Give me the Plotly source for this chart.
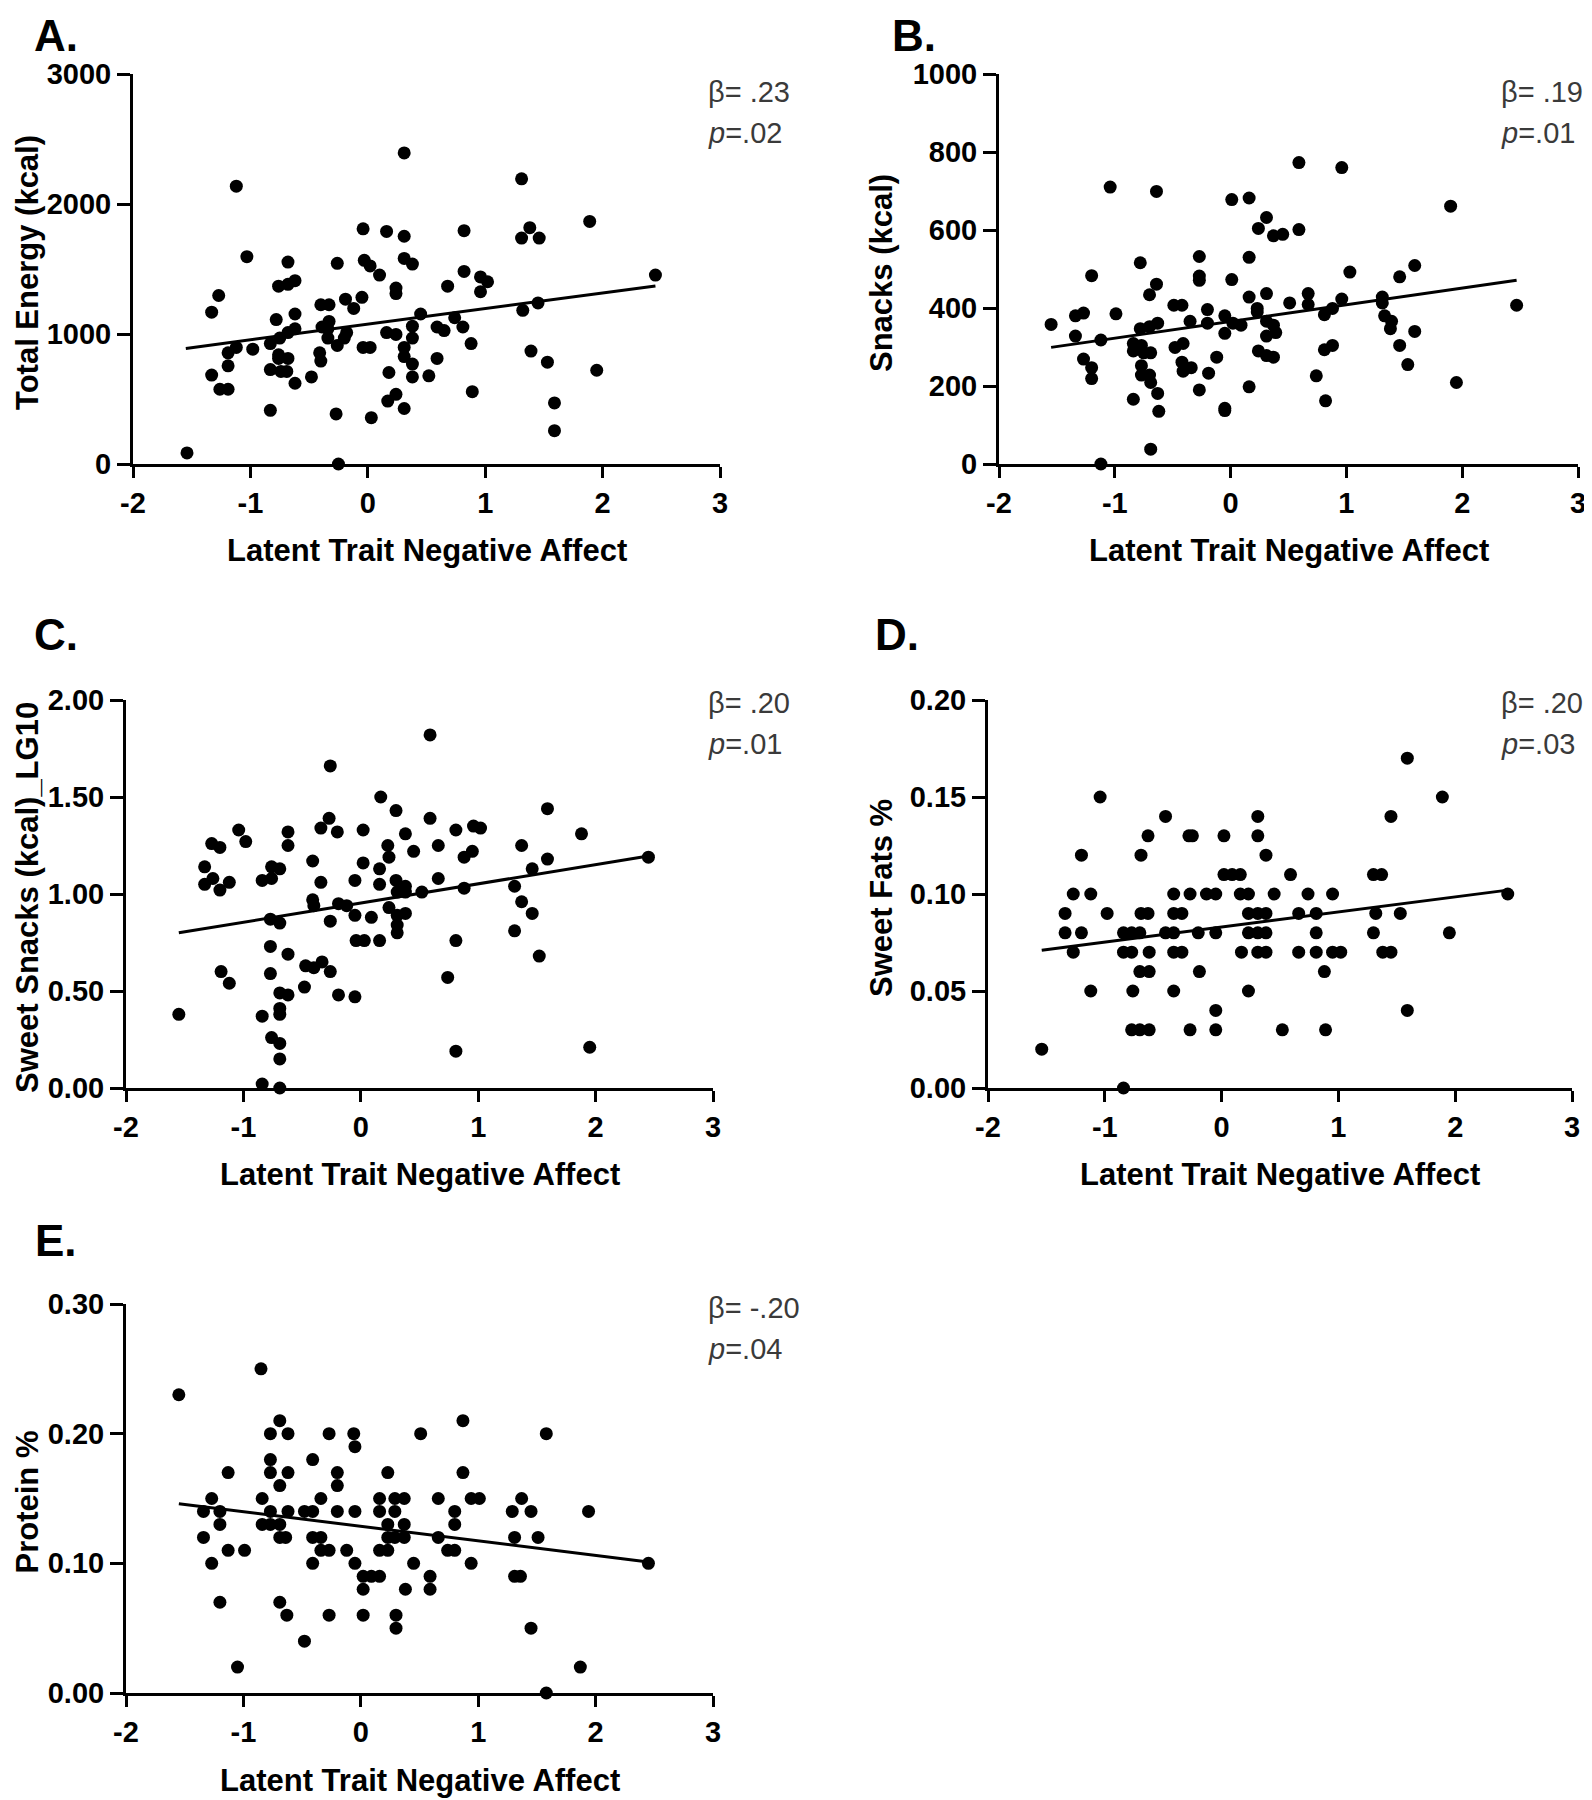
import plotly.graph_objects as go

# ---------------- data ----------------
a_x = [-1.54,-1.33,-1.33,-1.27,-1.26,-1.19,-1.19,-1.19,-1.12,-1.12,-1.03,-0.98,-0.83,-0.83,-0.83,-0.78,-0.76,-0.76,-0.76,-0.74,
       -0.75,-0.69,-0.68,-0.68,-0.68,-0.68,-0.62,-0.62,-0.62,-0.62,-0.48,-0.41,-0.40,-0.40,-0.39,-0.34,-0.33,-0.33,-0.34,-0.27,
       -0.26,-0.25,-0.26,-0.20,-0.19,-0.18,-0.12,-0.05,-0.04,-0.03,-0.04,0.02,0.02,0.03,0.10,0.16,0.16,0.17,0.18,0.24,
       0.24,0.24,0.24,0.31,0.31,0.31,0.31,0.31,0.31,0.38,0.38,0.38,0.38,0.38,0.45,0.52,0.59,0.59,0.65,0.68,
       0.74,0.81,0.82,0.82,0.88,0.89,0.96,0.96,1.02,1.31,1.31,1.32,1.38,1.39,1.46,1.45,1.53,1.59,1.59,1.89,
       1.95,2.45]
a_y = [85,684,1168,1296,575,575,755,855,2137,897,1595,883,413,726,926,1111,1368,840,812,712,
       969,712,812,1553,1382,1011,1410,621,1154,1040,670,855,792,1225,1054,1040,1225,1097,969,385,
       1544,0,912,969,1268,1011,1197,1282,1809,1567,897,1524,897,356,1453,1789,1011,484,704,997,
       536,1311,1353,2393,1752,1581,897,826,427,1538,1060,969,769,670,1154,678,1054,812,1026,1368,
       1125,1054,1795,1481,926,556,1439,1325,1402,2194,1738,1182,1818,869,1738,1239,783,470,256,1866,
       721,1453]
a_fit_x = [-1.55, 2.45]
a_fit_y = [889, 1370]

b_x = [-1.55,-1.34,-1.27,-1.34,-1.27,-1.20,-1.20,-1.20,-1.12,-1.12,-1.04,-0.99,-0.84,-0.84,-0.84,-0.78,-0.78,-0.77,-0.77,-0.77,
       -0.75,-0.70,-0.70,-0.70,-0.69,-0.69,-0.69,-0.64,-0.64,-0.63,-0.63,-0.62,-0.49,-0.48,-0.42,-0.41,-0.42,-0.41,-0.35,-0.34,
       -0.27,-0.27,-0.27,-0.27,-0.20,-0.20,-0.19,-0.12,-0.05,-0.05,-0.05,-0.05,0.01,0.01,0.02,0.09,0.16,0.16,0.16,0.16,
       0.23,0.23,0.24,0.24,0.31,0.31,0.31,0.31,0.31,0.37,0.37,0.39,0.37,0.45,0.51,0.59,0.59,0.67,0.67,0.74,
       0.81,0.81,0.82,0.88,0.88,0.96,0.96,1.03,1.31,1.31,1.33,1.38,1.39,1.46,1.46,1.53,1.59,1.59,1.90,1.95,
       2.47]
b_y = [358,380,387,328,269,247,219,483,318,0,710,385,166,309,290,516,347,252,228,304,
       285,434,352,228,209,38,285,461,699,361,181,135,407,299,407,309,261,238,366,247,
       532,482,471,190,396,361,233,274,380,335,143,137,678,473,361,356,682,530,428,198,
       399,390,604,290,632,437,366,328,278,585,356,337,274,589,413,773,601,437,409,226,
       383,293,162,399,304,760,423,492,428,413,380,347,366,480,304,255,509,340,661,209,
       407]
b_fit_x = [-1.55, 2.47]
b_fit_y = [299, 471]

c_x = [-1.55,-1.33,-1.33,-1.27,-1.26,-1.20,-1.20,-1.19,-1.12,-1.12,-1.04,-0.98,-0.84,-0.84,-0.84,-0.77,-0.77,-0.77,-0.76,-0.76,
       -0.76,-0.69,-0.69,-0.69,-0.69,-0.69,-0.69,-0.69,-0.69,-0.62,-0.62,-0.62,-0.62,-0.48,-0.47,-0.41,-0.41,-0.40,-0.40,-0.34,
       -0.34,-0.33,-0.27,-0.26,-0.26,-0.26,-0.20,-0.19,-0.19,-0.12,-0.05,-0.05,-0.05,-0.04,0.02,0.02,0.03,0.09,0.16,0.16,
       0.17,0.16,0.23,0.24,0.24,0.30,0.30,0.31,0.31,0.31,0.31,0.38,0.38,0.38,0.38,0.45,0.52,0.59,0.59,0.66,
       0.66,0.74,0.81,0.81,0.81,0.88,0.88,0.95,0.96,1.02,1.31,1.31,1.37,1.37,1.46,1.46,1.52,1.59,1.59,1.88,
       1.95,2.45]
c_y = [0.38,1.14,1.05,1.26,1.08,1.24,1.02,0.60,1.06,0.54,1.33,1.27,0.02,0.37,1.07,0.87,0.73,0.59,0.26,1.14,
       1.08,0.00,0.15,0.23,0.38,0.41,0.49,0.85,1.13,0.48,0.69,1.32,1.25,0.52,0.63,1.17,0.97,0.94,0.62,1.34,
       1.06,0.65,1.39,1.66,0.86,0.60,1.32,0.95,0.48,0.94,1.07,0.89,0.47,0.76,1.33,1.16,0.76,0.88,1.13,1.05,
       1.50,0.76,1.25,1.19,0.93,1.43,1.07,1.01,0.89,0.84,0.80,1.31,1.04,1.01,0.90,1.22,1.01,1.82,1.39,1.25,
       1.08,0.57,1.33,0.76,0.19,1.19,1.03,1.22,1.35,1.34,1.04,0.81,1.25,0.96,1.13,0.90,0.68,1.44,1.18,1.31,
       0.21,1.19]
c_fit_x = [-1.55, 2.45]
c_fit_y = [0.80, 1.196]

d_x = [-1.54,-1.34,-1.34,-1.27,-1.27,-1.20,-1.20,-1.12,-1.12,-1.04,-0.98,-0.84,-0.84,-0.84,-0.77,-0.77,-0.77,-0.76,-0.70,-0.70,
       -0.70,-0.69,-0.69,-0.63,-0.63,-0.62,-0.62,-0.62,-0.48,-0.48,-0.41,-0.41,-0.41,-0.41,-0.41,-0.34,-0.34,-0.28,-0.25,-0.27,
       -0.27,-0.20,-0.19,-0.13,-0.05,-0.05,-0.05,-0.05,0.02,0.02,0.09,0.16,0.16,0.17,0.23,0.23,0.23,0.23,0.31,0.31,
       0.31,0.31,0.31,0.38,0.38,0.38,0.38,0.45,0.52,0.59,0.66,0.66,0.74,0.81,0.81,0.81,0.88,0.89,0.95,0.95,
       1.02,1.30,1.32,1.30,1.37,1.38,1.45,1.45,1.53,1.59,1.59,1.89,1.95,2.45]
d_y = [0.02,0.09,0.08,0.10,0.07,0.12,0.08,0.10,0.05,0.15,0.09,0.00,0.08,0.07,0.08,0.07,0.03,0.05,0.08,0.06,
       0.03,0.12,0.09,0.13,0.09,0.07,0.06,0.03,0.14,0.08,0.10,0.09,0.08,0.07,0.05,0.09,0.07,0.13,0.13,0.10,
       0.03,0.08,0.06,0.10,0.10,0.08,0.04,0.03,0.13,0.11,0.11,0.11,0.10,0.07,0.10,0.08,0.09,0.05,0.14,0.13,
       0.09,0.08,0.07,0.12,0.09,0.08,0.07,0.10,0.03,0.11,0.09,0.07,0.10,0.09,0.08,0.07,0.06,0.03,0.10,0.07,
       0.07,0.08,0.09,0.11,0.11,0.07,0.14,0.07,0.09,0.17,0.04,0.15,0.08,0.10]
d_fit_x = [-1.54, 2.45]
d_fit_y = [0.071, 0.102]

e_x = [-1.55,-1.34,-1.34,-1.27,-1.27,-1.20,-1.20,-1.20,-1.13,-1.13,-1.05,-0.99,-0.85,-0.84,-0.84,-0.77,-0.77,-0.77,-0.77,-0.77,
       -0.69,-0.69,-0.69,-0.69,-0.69,-0.62,-0.62,-0.62,-0.64,-0.63,-0.48,-0.48,-0.41,-0.41,-0.41,-0.41,-0.34,-0.34,-0.34,-0.27,
       -0.27,-0.27,-0.20,-0.20,-0.20,-0.12,-0.06,-0.05,-0.05,-0.05,0.02,0.02,0.02,0.09,0.16,0.16,0.16,0.16,0.23,0.23,
       0.23,0.23,0.29,0.29,0.29,0.30,0.30,0.37,0.37,0.37,0.38,0.45,0.51,0.59,0.59,0.66,0.66,0.74,0.80,0.80,
       0.80,0.87,0.87,0.94,0.94,1.01,1.29,1.31,1.31,1.36,1.37,1.45,1.45,1.51,1.58,1.58,1.87,1.94,2.45]
e_y = [0.23,0.14,0.12,0.15,0.10,0.14,0.13,0.07,0.17,0.11,0.02,0.11,0.25,0.15,0.13,0.20,0.18,0.17,0.14,0.13,
       0.21,0.16,0.13,0.12,0.07,0.20,0.17,0.14,0.12,0.06,0.14,0.04,0.18,0.14,0.12,0.10,0.15,0.12,0.11,0.20,
       0.11,0.06,0.17,0.16,0.14,0.11,0.20,0.19,0.14,0.10,0.09,0.08,0.06,0.09,0.15,0.14,0.11,0.09,0.17,0.13,
       0.12,0.11,0.15,0.14,0.12,0.06,0.05,0.15,0.13,0.12,0.08,0.10,0.20,0.09,0.08,0.15,0.12,0.11,0.14,0.13,
       0.11,0.21,0.17,0.15,0.10,0.15,0.14,0.12,0.09,0.09,0.15,0.14,0.05,0.12,0.20,0.00,0.02,0.14,0.10]
e_fit_x = [-1.55, 2.45]
e_fit_y = [0.146, 0.101]

panel_letters = ["A.", "B.", "C.", "D.", "E."]
y_titles = ["Total Energy (kcal)", "Snacks (kcal)", "Sweet Snacks (kcal)_LG10", "Sweet Fats %", "Protein %"]
x_title = "Latent Trait Negative Affect"
betas = ["β= .23", "β= .19", "β= .20", "β= .20", "β= -.20"]
pvals = [".02", ".01", ".01", ".03", ".04"]
y_ranges = [[0, 3000], [0, 1000], [0, 2.0], [0, 0.20], [0, 0.30]]
y_dticks = [1000, 200, 0.5, 0.05, 0.10]
y_formats = ["d", "d", ".2f", ".2f", ".2f"]
x_ticks = [-2, -1, 0, 1, 2, 3]
x_ticklabels = ["-2", "-1", "0", "1", "2", "3"]

# ---------------- layout geometry (page pixels) ----------------
OFF = 8                      # default page margin around the plot div
FW, FH = 1584, 1792          # figure size so that the page is exactly filled
# (left, right, top, bottom) of each plot area, in page pixels
boxes = [(133, 720, 74, 464), (999, 1578, 74, 464),
         (126, 713, 700, 1088), (988, 1572, 700, 1088),
         (126, 713, 1304, 1693)]
letter_pos = [(32, 35), (890, 35), (32, 634), (873, 634), (33, 1240)]
ytitle_x = [27, 881, 27, 881, 27]
xtitle_y = [551, 551, 1174, 1174, 1780]
stat_pos = [(706, 92), (1499, 92), (706, 703), (1499, 703), (706, 1308)]

FONT = "Liberation Sans"

def px(x):
    return (x - OFF) / FW

def py(y):
    return 1 - (y - OFF) / FH

fig = go.Figure()
xs = [a_x, b_x, c_x, d_x, e_x]
ys = [a_y, b_y, c_y, d_y, e_y]
fxs = [a_fit_x, b_fit_x, c_fit_x, d_fit_x, e_fit_x]
fys = [a_fit_y, b_fit_y, c_fit_y, d_fit_y, e_fit_y]

annotations = []
for i in range(5):
    suf = "" if i == 0 else str(i + 1)
    fig.add_trace(go.Scatter(x=xs[i], y=ys[i], mode="markers", xaxis="x" + suf, yaxis="y" + suf,
                             marker=dict(color="black", size=13, line=dict(width=0)),
                             cliponaxis=False, showlegend=False))
    fig.add_trace(go.Scatter(x=fxs[i], y=fys[i], mode="lines", xaxis="x" + suf, yaxis="y" + suf,
                             line=dict(color="black", width=3), cliponaxis=False, showlegend=False))
    l, r, t, b = boxes[i]
    common = dict(showline=True, linewidth=3, linecolor="black", ticks="outside", tickwidth=3,
                  tickcolor="black", showgrid=False, zeroline=False, automargin=False,
                  tickfont=dict(family=FONT, size=29, color="black", weight="bold"), fixedrange=True)
    fig.update_layout(**{
        "xaxis" + suf: dict(domain=[px(l), px(r)], range=[-2, 3], tickvals=x_ticks, ticktext=x_ticklabels,
                            anchor="y" + suf, ticklen=11, **common),
        "yaxis" + suf: dict(domain=[py(b), py(t)], range=y_ranges[i], dtick=y_dticks[i], tick0=0,
                            tickformat=y_formats[i], anchor="x" + suf, ticklen=13, **common),
    })
    # panel letter
    lx, ly = letter_pos[i]
    annotations.append(dict(text="<b>" + panel_letters[i] + "</b>", x=px(lx), y=py(ly), xref="paper", yref="paper",
                            xanchor="left", yanchor="middle", showarrow=False,
                            font=dict(family=FONT, size=44, color="black")))
    # x title
    annotations.append(dict(text="<b>" + x_title + "</b>", x=px((l + r) / 2), y=py(xtitle_y[i]), xref="paper",
                            yref="paper", xanchor="center", yanchor="middle", showarrow=False,
                            font=dict(family=FONT, size=31, color="black")))
    # y title
    annotations.append(dict(text="<b>" + y_titles[i] + "</b>", x=px(ytitle_x[i]), y=py((t + b) / 2 + 4),
                            xref="paper", yref="paper", xanchor="center", yanchor="middle", textangle=-90,
                            showarrow=False, font=dict(family=FONT, size=31, color="black")))
    # stats
    sx, sy = stat_pos[i]
    annotations.append(dict(text=betas[i], x=px(sx), y=py(sy), xref="paper", yref="paper",
                            xanchor="left", yanchor="middle", showarrow=False,
                            font=dict(family=FONT, size=29, color="#3a3a3a")))
    annotations.append(dict(text="<i>p</i>=" + pvals[i], x=px(sx), y=py(sy + 41), xref="paper", yref="paper",
                            xanchor="left", yanchor="middle", showarrow=False,
                            font=dict(family=FONT, size=29, color="#3a3a3a")))

fig.update_layout(width=FW, height=FH, margin=dict(l=0, r=0, t=0, b=0, pad=0, autoexpand=False),
                  paper_bgcolor="white", plot_bgcolor="white", annotations=annotations,
                  font=dict(family=FONT))

fig.write_html("out.html")
